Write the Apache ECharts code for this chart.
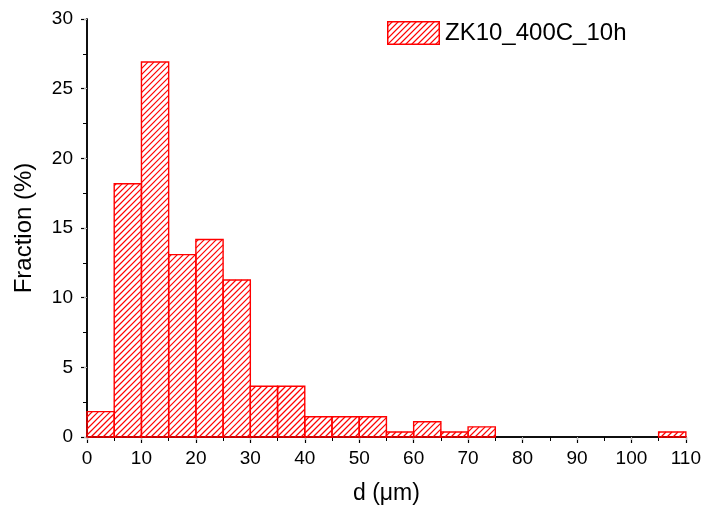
<!DOCTYPE html>
<html>
<head>
<meta charset="utf-8">
<script src="https://cdn.jsdelivr.net/npm/echarts@6/dist/echarts.min.js"></script>
<style>html,body{margin:0;padding:0;background:#fff}#c{width:704px;height:510px}</style>
</head>
<body>
<div id="c"></div>
<script>
const binStarts = [0,5,10,15,20,25,30,35,40,45,50,55,60,65,70,75,80,85,90,95,100,105];
const binWidth = 5;
const fractions = [1.82,18.18,26.91,13.09,14.18,11.27,3.64,3.64,1.45,1.45,1.45,0.36,1.09,0.36,0.73,0,0,0,0,0,0,0.36];
const seriesName = 'ZK10_400C_10h';
const xTicks = [0,10,20,30,40,50,60,70,80,90,100,110];
const yTicks = [0,5,10,15,20,25,30];

const RED = '#ff0000';
const HATCH = '#ff0000';
const SP = 6;

// hatched legend icon as SVG
function legendIcon() {
  const w = 53, h = 24;
  let lines = '';
  for (let c = SP; c < w + h; c += SP) {
    const xa = Math.max(0, c - h), xb = Math.min(w, c);
    lines += `<line x1="${xa}" y1="${c - xa}" x2="${xb}" y2="${c - xb}" stroke="${HATCH}" stroke-width="1.2"/>`;
  }
  const svg = `<svg xmlns="http://www.w3.org/2000/svg" width="${w}" height="${h}" viewBox="0 0 ${w} ${h}">${lines}<rect x="0.75" y="0.75" width="${w - 1.5}" height="${h - 1.5}" fill="none" stroke="${RED}" stroke-width="1.5"/></svg>`;
  return 'image://data:image/svg+xml;charset=utf-8,' + encodeURIComponent(svg);
}

const chart = echarts.init(document.getElementById('c'), null, { renderer: 'canvas' });
const font = 'Liberation Sans, Arial, sans-serif';
chart.setOption({
  animation: false,
  grid: { left: 87, right: 17, top: 19, bottom: 73 },
  legend: {
    data: [{ name: seriesName, icon: legendIcon() }],
    top: 21, left: 387, padding: 0,
    itemWidth: 53, itemHeight: 24, itemGap: 6,
    textStyle: { fontFamily: font, fontSize: 24, color: '#000' }
  },
  xAxis: [{
    type: 'value', min: xTicks[0], max: xTicks[xTicks.length - 1], interval: 10,
    name: 'd (\u03bcm)', nameLocation: 'middle', nameGap: 45,
    nameTextStyle: { fontFamily: font, fontSize: 23, color: '#000' },
    axisLine: { onZero: false, lineStyle: { color: '#000', width: 1.5 } },
    axisTick: { show: true, inside: false, length: 6, lineStyle: { color: '#000', width: 1.2 } },
    minorTick: { show: true, splitNumber: 2, length: 4, lineStyle: { color: '#000', width: 1 } },
    axisLabel: { fontFamily: font, fontSize: 19, color: '#000', margin: 12 },
    splitLine: { show: false }
  }, {
    type: 'value', position: 'top', min: 0, max: 110, interval: 10,
    axisLine: { show: true, lineStyle: { color: '#000', width: 1.5 } },
    axisTick: { show: true, inside: true, length: 3, lineStyle: { color: '#bbb' } },
    axisLabel: { show: false }, splitLine: { show: false }
  }],
  yAxis: [{
    type: 'value', min: yTicks[0], max: yTicks[yTicks.length - 1], interval: 5,
    name: 'Fraction (%)', nameLocation: 'middle', nameGap: 51, nameRotate: 90,
    nameTextStyle: { fontFamily: font, fontSize: 24, color: '#000' },
    axisLine: { show: true, onZero: false, lineStyle: { color: '#000', width: 1.5 } },
    axisTick: { show: true, inside: false, length: 6, lineStyle: { color: '#000', width: 1.2 } },
    minorTick: { show: true, splitNumber: 2, length: 4, lineStyle: { color: '#000', width: 1 } },
    axisLabel: { fontFamily: font, fontSize: 19, color: '#000', margin: 14 },
    splitLine: { show: false }
  }, {
    type: 'value', position: 'right', min: 0, max: 30, interval: 5,
    axisLine: { show: true, lineStyle: { color: '#000', width: 1.5 } },
    axisTick: { show: true, inside: true, length: 3, lineStyle: { color: '#bbb' } },
    axisLabel: { show: false }, splitLine: { show: false }
  }],
  series: [{
    name: seriesName,
    type: 'custom',
    xAxisIndex: 0, yAxisIndex: 0,
    itemStyle: { color: RED },
    data: binStarts.map((s, i) => [s, s + binWidth, fractions[i]]),
    renderItem: function (params, api) {
      const v = api.value(2);
      if (!v) return null;
      const p0 = api.coord([api.value(0), 0]);
      const p1 = api.coord([api.value(1), v]);
      const x0 = p0[0], x1 = p1[0], y0 = p1[1], y1 = p0[1];
      const children = [];
      // 45-degree hatch lines x + y = c, clipped to the bar rectangle
      const cStart = Math.ceil((x0 + y0) / SP) * SP;
      for (let c = cStart; c <= x1 + y1; c += SP) {
        const xa = Math.max(x0, c - y1), xb = Math.min(x1, c - y0);
        if (xb <= xa) continue;
        children.push({
          type: 'line', silent: true,
          shape: { x1: xa, y1: c - xa, x2: xb, y2: c - xb },
          style: { stroke: HATCH, lineWidth: 1.2 }
        });
      }
      children.push({
        type: 'rect',
        shape: { x: x0, y: y0, width: x1 - x0, height: y1 - y0 },
        style: { fill: 'none', stroke: RED, lineWidth: 1.4 }
      });
      return { type: 'group', children: children };
    },
    encode: { x: [0, 1], y: 2 }
  }]
});
</script>
</body>
</html>
